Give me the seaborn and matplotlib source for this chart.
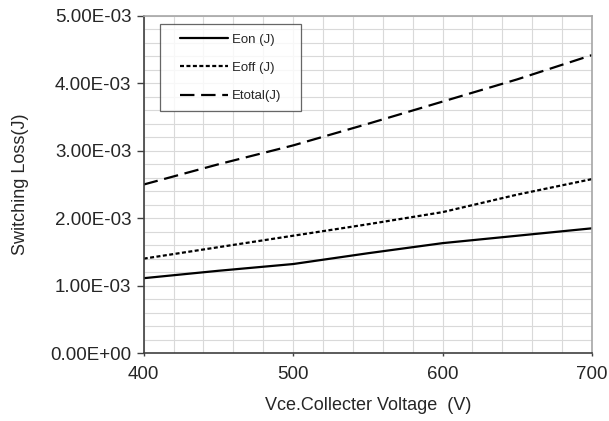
import matplotlib
matplotlib.use("Agg")
import matplotlib.pyplot as plt
from matplotlib.lines import Line2D
from matplotlib.legend_handler import HandlerLine2D
from matplotlib.ticker import FuncFormatter, MultipleLocator
import pandas as pd
import seaborn as sns

# Collector-emitter voltage (V)
vce = [400, 450, 500, 550, 600, 650, 700]
# Switching energies (J)
eon = [1.11e-3, 1.22e-3, 1.32e-3, 1.48e-3, 1.63e-3, 1.74e-3, 1.85e-3]
eoff = [1.40e-3, 1.57e-3, 1.74e-3, 1.91e-3, 2.09e-3, 2.35e-3, 2.58e-3]
etotal = [2.50e-3, 2.80e-3, 3.08e-3, 3.40e-3, 3.73e-3, 4.06e-3, 4.42e-3]

series_names = ["Eon (J)", "Eoff (J)", "Etotal(J)"]
x_ticks = [400, 500, 600, 700]
y_ticks = [0.0, 1e-3, 2e-3, 3e-3, 4e-3, 5e-3]

df = pd.DataFrame({
    "Vce": vce * 3,
    "E": eon + eoff + etotal,
    "series": [name for name in series_names for _ in vce],
})

sns.set_theme(style="white")
plt.rcParams["font.family"] = ["Liberation Sans", "DejaVu Sans"]

fig = plt.figure(figsize=(6.09, 4.21), dpi=100)
ax = fig.add_axes([0.236, 0.1615, 0.736, 0.8005])

line_dashes = {series_names[0]: "", series_names[1]: (1.8, 1.1), series_names[2]: (6.5, 3.0)}
sns.lineplot(
    data=df, x="Vce", y="E", hue="series", style="series",
    palette=["black", "black", "black"], dashes=line_dashes,
    linewidth=1.6, ax=ax, legend=True,
)

ax.set_xlim(400, 700)
ax.set_ylim(0, 5e-3)
ax.set_xticks(x_ticks)
ax.set_yticks(y_ticks)
ax.xaxis.set_minor_locator(MultipleLocator(20))
ax.yaxis.set_minor_locator(MultipleLocator(2e-4))
ax.yaxis.set_major_formatter(FuncFormatter(lambda v, p: f"{v:.2E}"))

ax.grid(True, which="both", color="#d9d9d9", linewidth=0.8)
ax.set_axisbelow(True)

for side in ("top", "right"):
    ax.spines[side].set_color("#a6a6a6")
    ax.spines[side].set_linewidth(1.2)
for side in ("left", "bottom"):
    ax.spines[side].set_color("#404040")
    ax.spines[side].set_linewidth(1.2)

ax.tick_params(axis="y", which="major", labelsize=13.5, labelcolor="#262626",
               color="#404040", length=5, width=1, direction="out", left=True, pad=4)
ax.tick_params(axis="x", which="major", labelsize=13.5, labelcolor="#262626",
               color="#404040", length=2.5, width=1, direction="out", bottom=True, pad=7)
ax.tick_params(axis="both", which="minor", length=0)

ax.set_xlabel("Vce.Collecter Voltage  (V)", fontsize=13, color="#262626", labelpad=10)
ax.set_ylabel("Switching Loss(J)", fontsize=13, color="#262626", labelpad=15)

handles, labels = ax.get_legend_handles_labels()
ax.get_legend().remove()
leg = ax.legend(
    handles, labels,
    loc="upper left", bbox_to_anchor=(0.037, 0.66, 0.315, 0.316), mode="expand",
    fontsize=9.5, handlelength=4.45, handletextpad=0.3, labelspacing=1.22,
    borderpad=0.7, frameon=True, fancybox=False, borderaxespad=0,
    handler_map={Line2D: HandlerLine2D(xpad=0.8)},
)
leg.get_frame().set_edgecolor("#404040")
leg.get_frame().set_linewidth(0.9)
for line in leg.get_lines():
    line.set_linewidth(1.6)

fig.savefig("out.png", dpi=100)
